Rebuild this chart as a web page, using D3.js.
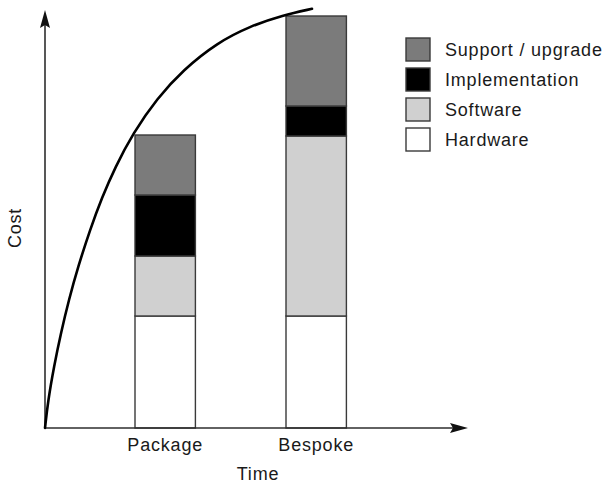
<!DOCTYPE html>
<html>
<head>
<meta charset="utf-8">
<script src="https://cdn.jsdelivr.net/npm/d3@7"></script>
<style>
  html, body { margin: 0; padding: 0; background: #fff; }
  svg text { font-family: "Liberation Sans", Arial, Helvetica, sans-serif; fill: #1a1a1a; letter-spacing: 0.8px; }
</style>
</head>
<body>
<svg id="chart" width="606" height="484"></svg>
<script>
// Solutions compared along the time axis
const categories = ["Package", "Bespoke"];

// Cost components, stacked bottom to top
const components = ["Hardware", "Software", "Implementation", "Support / upgrade"];
const hardware       = [28, 28];
const software       = [15, 45];
const implementation = [15.25, 7.5];
const support        = [15, 22.5];

// Legend lists components top to bottom
const legendOrder = ["Support / upgrade", "Implementation", "Software", "Hardware"];
const colors = ["#ffffff", "#d0d0d0", "#000000", "#7b7b7b"];

// Cumulative cost over time (time, cost)
const curveTime = [0, 0.71, 2.13, 3.78, 5.67, 7.8, 10.64, 13.48, 16.55, 20.8, 26.48, 32.62, 40.66, 48.46, 56.26, 63.12];
const curveCost = [0, 6.75, 15.45, 23.85, 32.15, 40.25, 49.55, 57.65, 65.1, 73.7, 82.4, 89.5, 96.3, 100.45, 103.2, 104.8];

// Axis extents
const timeMax = 100;
const costMax = 104.5;

const svg = d3.select("#chart");

const x = d3.scaleLinear().domain([0, 100]).range([45, 468]);
const y = d3.scaleLinear().domain([0, 105]).range([428, 8]);
const xBand = d3.scaleBand().domain(categories).range([135, 346.4]).paddingInner(0.6).paddingOuter(0);
const color = d3.scaleOrdinal().domain(components).range(colors);

// Stack the components per category
const rows = categories.map((c, i) => ({
  category: c,
  "Hardware": hardware[i],
  "Software": software[i],
  "Implementation": implementation[i],
  "Support / upgrade": support[i]
}));
const stacked = d3.stack().keys(components)(rows);

svg.append("g")
  .selectAll("g")
  .data(stacked)
  .join("g")
  .attr("fill", d => color(d.key))
  .selectAll("rect")
  .data(d => d)
  .join("rect")
  .attr("x", d => xBand(d.data.category))
  .attr("width", xBand.bandwidth())
  .attr("y", d => y(d[1]))
  .attr("height", d => y(d[0]) - y(d[1]))
  .attr("stroke", "#3a3a3a")
  .attr("stroke-width", 1.4);

// Axes with arrowheads
const axisColor = "#2e2e2e";
const axes = svg.append("g");
axes.append("line")
  .attr("x1", x(0)).attr("y1", y(0))
  .attr("x2", x(0)).attr("y2", y(costMax) + 12)
  .attr("stroke", axisColor).attr("stroke-width", 1.6);
axes.append("line")
  .attr("x1", x(0)).attr("y1", y(0))
  .attr("x2", x(timeMax) - 12).attr("y2", y(0))
  .attr("stroke", axisColor).attr("stroke-width", 1.6);

const yTip = [x(0), y(costMax)];
axes.append("path")
  .attr("d", `M${yTip[0]},${yTip[1]} L${yTip[0] - 5},${yTip[1] + 18} L${yTip[0]},${yTip[1] + 15} L${yTip[0] + 5},${yTip[1] + 18} Z`)
  .attr("fill", "#111");
const xTip = [x(timeMax), y(0)];
axes.append("path")
  .attr("d", `M${xTip[0]},${xTip[1]} L${xTip[0] - 18},${xTip[1] - 5} L${xTip[0] - 15},${xTip[1]} L${xTip[0] - 18},${xTip[1] + 5} Z`)
  .attr("fill", "#111");

// Cumulative cost curve, smoothed through the read points
const line = d3.line()
  .x((d, i) => x(curveTime[i]))
  .y((d, i) => y(curveCost[i]))
  .curve(d3.curveBasis);
svg.append("path")
  .datum(curveTime)
  .attr("d", line)
  .attr("fill", "none")
  .attr("stroke", "#000")
  .attr("stroke-width", 2.6)
  .attr("stroke-linecap", "round");

// Category labels
const xAxis = svg.append("g")
  .attr("transform", `translate(0,${y(0)})`)
  .call(d3.axisBottom(xBand).tickSize(0).tickPadding(10));
xAxis.select(".domain").remove();
xAxis.selectAll("text")
  .attr("font-size", 18)
  .attr("font-family", "Liberation Sans, Arial, sans-serif")
  .attr("fill", "#1a1a1a");

// Axis titles
svg.append("text")
  .attr("x", 258).attr("y", 480)
  .attr("text-anchor", "middle")
  .attr("font-size", 18)
  .text("Time");
svg.append("text")
  .attr("transform", "translate(21,228) rotate(-90)")
  .attr("text-anchor", "middle")
  .attr("font-size", 18)
  .text("Cost");

// Legend
const legend = svg.append("g").attr("transform", "translate(406,38)");
const items = legend.selectAll("g")
  .data(legendOrder)
  .join("g")
  .attr("transform", (d, i) => `translate(0,${i * 30})`);
items.append("rect")
  .attr("width", 24).attr("height", 23)
  .attr("fill", d => color(d))
  .attr("stroke", "#3a3a3a")
  .attr("stroke-width", 1.4);
items.append("text")
  .attr("x", 39).attr("y", 17.5)
  .attr("font-size", 18)
  .text(d => d);
</script>
</body>
</html>
